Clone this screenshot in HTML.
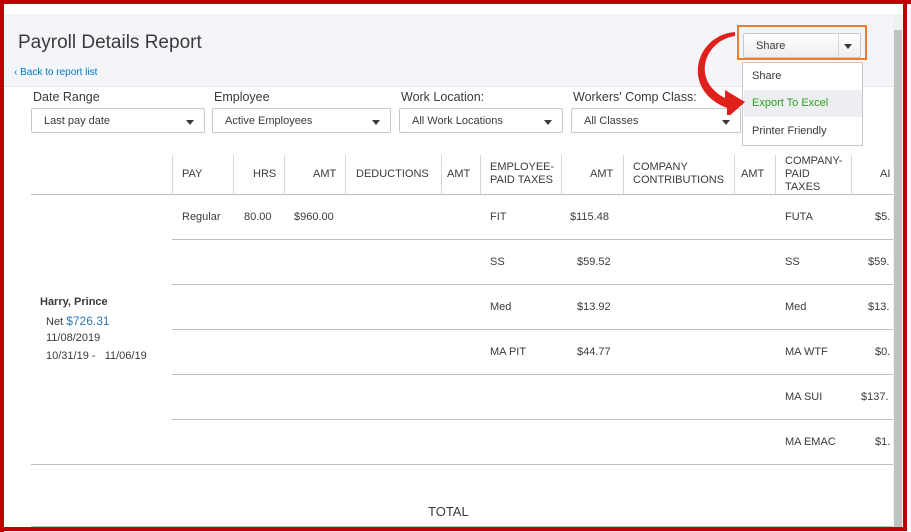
<!DOCTYPE html>
<html><head><meta charset="utf-8"><style>
body{margin:0;width:911px;height:532px;overflow:hidden;background:#fff;font-family:"Liberation Sans",sans-serif;position:relative;color:#393a3d}
.a{position:absolute;white-space:nowrap}
.hdr{position:absolute;left:4px;top:14px;width:889px;height:72px;background:#f4f5f8;border-bottom:1px solid #e3e5e8}
.dd{position:absolute;top:108px;height:25px;border:1px solid #c6c8cc;border-radius:2px;background:#fff;font-size:11px;line-height:25px;box-sizing:border-box;padding-left:12px}
.dd:after{content:"";position:absolute;right:10px;top:11px;border:4px solid transparent;border-top:5px solid #393a3d;border-bottom:0}
.lbl{position:absolute;top:90px;font-size:12.5px}
.th{font-size:11px;color:#393a3d}
.vl{position:absolute;top:155px;height:39px;width:1px;background:#d4d7dc}
.hl{position:absolute;height:1px;background:#babec5}
.c{font-size:11px;position:absolute;white-space:nowrap}
</style></head><body>
<div class="a" style="left:0;top:0;width:911px;height:4px;background:#c00000"></div>
<div class="a" style="left:0;top:0;width:4px;height:532px;background:#c00000"></div>
<div class="a" style="left:0;top:527px;width:907px;height:4px;background:#c00000"></div>
<div class="a" style="left:903px;top:0;width:4px;height:531px;background:#c00000"></div>
<div class="a" style="left:893px;top:14px;width:10px;height:513px;background:#f0f0f0"></div>
<div class="a" style="left:894px;top:30px;width:8px;height:497px;background:#c1c1c1"></div>
<div class="hdr"></div>
<div class="a" style="left:18px;top:32px;font-size:19px;color:#393a3d">Payroll Details Report</div>
<div class="a" style="left:14px;top:67px;font-size:10px;color:#0077c5">‹ Back to report list</div>
<div class="lbl" style="left:33px">Date Range</div>
<div class="lbl" style="left:214px">Employee</div>
<div class="lbl" style="left:401px">Work Location:</div>
<div class="lbl" style="left:573px">Workers' Comp Class:</div>
<div class="dd" style="left:31px;width:174px">Last pay date</div>
<div class="dd" style="left:212px;width:179px">Active Employees</div>
<div class="dd" style="left:399px;width:164px">All Work Locations</div>
<div class="dd" style="left:571px;width:170px">All Classes</div>
<div class="a" style="left:737px;top:25px;width:130px;height:35px;border:2px solid #f07c2a;box-sizing:border-box"></div>
<div class="a" style="left:743px;top:33px;width:118px;height:25px;border:1px solid #c6c8cc;border-radius:2px;background:linear-gradient(#fff,#eee);box-sizing:border-box;font-size:11px;line-height:24px;padding-left:12px">Share<span style="position:absolute;left:94px;top:0;width:1px;height:23px;background:#d4d7dc"></span><span style="position:absolute;right:8px;top:10px;border:4px solid transparent;border-top:5px solid #393a3d;border-bottom:0"></span></div>
<div class="a" style="left:742px;top:62px;width:121px;height:84px;border:1px solid #c6c8cc;background:#fff;box-sizing:border-box"></div>
<div class="c" style="left:752px;top:70px">Share</div>
<div class="a" style="left:744px;top:90px;width:118px;height:27px;background:#eceef1"></div>
<div class="c" style="left:752px;top:97px;color:#2ca01c">Export To Excel</div>
<div class="c" style="left:752px;top:125px">Printer Friendly</div>
<svg class="a" style="left:695px;top:30px" width="60" height="85"><path d="M40 6 C10 10,-5 50,30 68 L30 60 L50 72 L32 88 L32 78 C-15 60,0 5,40 2Z" fill="#e0201a"/></svg>
<div class="vl" style="left:172px"></div><div class="vl" style="left:233px"></div><div class="vl" style="left:284px"></div><div class="vl" style="left:345px"></div><div class="vl" style="left:441px"></div><div class="vl" style="left:480px"></div><div class="vl" style="left:561px"></div><div class="vl" style="left:623px"></div><div class="vl" style="left:734px"></div><div class="vl" style="left:775px"></div><div class="vl" style="left:851px"></div>
<div class="c th" style="left:182px;top:168px">PAY</div>
<div class="c th" style="left:253px;top:168px">HRS</div>
<div class="c th" style="left:313px;top:168px">AMT</div>
<div class="c th" style="left:356px;top:168px">DEDUCTIONS</div>
<div class="c th" style="left:447px;top:168px">AMT</div>
<div class="c th" style="left:490px;top:161px;line-height:13px">EMPLOYEE-<br>PAID TAXES</div>
<div class="c th" style="left:590px;top:168px">AMT</div>
<div class="c th" style="left:633px;top:161px;line-height:13px">COMPANY<br>CONTRIBUTIONS</div>
<div class="c th" style="left:741px;top:168px">AMT</div>
<div class="c th" style="left:785px;top:155px;line-height:13px">COMPANY-<br>PAID<br>TAXES</div>
<div class="c th" style="left:880px;top:168px">AI</div>
<div class="hl" style="left:31px;top:194px;width:862px"></div>
<div class="hl" style="left:172px;top:239px;width:721px"></div>
<div class="hl" style="left:172px;top:284px;width:721px"></div>
<div class="hl" style="left:172px;top:329px;width:721px"></div>
<div class="hl" style="left:172px;top:374px;width:721px"></div>
<div class="hl" style="left:172px;top:419px;width:721px"></div>
<div class="hl" style="left:31px;top:464px;width:862px"></div>
<div class="c" style="left:182px;top:211px">Regular</div>
<div class="c" style="left:244px;top:211px">80.00</div>
<div class="c" style="left:294px;top:211px">$960.00</div>
<div class="c" style="left:490px;top:211px">FIT</div><div class="c" style="left:570px;top:211px">$115.48</div>
<div class="c" style="left:490px;top:256px">SS</div><div class="c" style="left:577px;top:256px">$59.52</div>
<div class="c" style="left:490px;top:301px">Med</div><div class="c" style="left:577px;top:301px">$13.92</div>
<div class="c" style="left:490px;top:346px">MA PIT</div><div class="c" style="left:577px;top:346px">$44.77</div>
<div class="c" style="left:785px;top:211px">FUTA</div><div class="c" style="left:875px;top:211px">$5.</div>
<div class="c" style="left:785px;top:256px">SS</div><div class="c" style="left:868px;top:256px">$59.</div>
<div class="c" style="left:785px;top:301px">Med</div><div class="c" style="left:868px;top:301px">$13.</div>
<div class="c" style="left:785px;top:346px">MA WTF</div><div class="c" style="left:875px;top:346px">$0.</div>
<div class="c" style="left:785px;top:391px">MA SUI</div><div class="c" style="left:861px;top:391px">$137.</div>
<div class="c" style="left:785px;top:436px">MA EMAC</div><div class="c" style="left:875px;top:436px">$1.</div>
<div class="c" style="left:40px;top:296px;font-weight:bold">Harry, Prince</div>
<div class="c" style="left:46px;top:314px">Net <span style="color:#2b75bd;font-size:12px">$726.31</span></div>
<div class="c" style="left:46px;top:332px">11/08/2019</div>
<div class="c" style="left:46px;top:350px">10/31/19 -&nbsp;&nbsp; 11/06/19</div>
<div class="a" style="left:428px;top:504px;font-size:13px">TOTAL</div>
<div class="hl" style="left:31px;top:526px;width:862px"></div>
</body></html>
